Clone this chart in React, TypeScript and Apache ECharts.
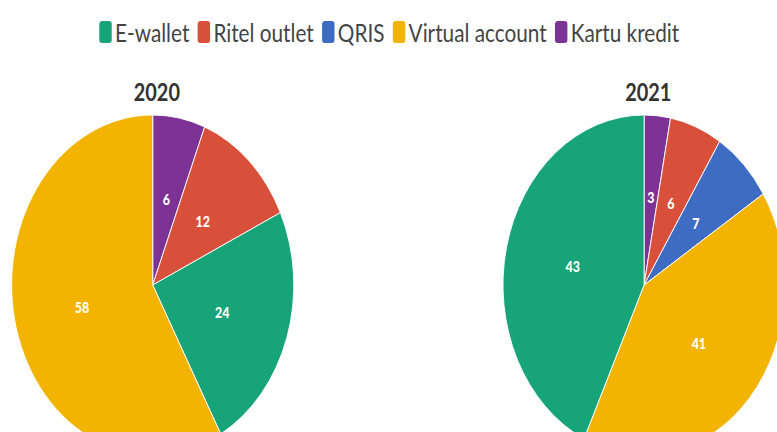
import React, { useEffect, useRef } from "react";
import * as echarts from "echarts";

const categories = ["E-wallet", "Ritel outlet", "QRIS", "Virtual account", "Kartu kredit"];
const colors = ["#17a479", "#d9503a", "#3d6cc2", "#f2b400", "#7c3395"];
// slice order as drawn clockwise from 12 o'clock
const order2020 = ["Kartu kredit", "Ritel outlet", "E-wallet", "Virtual account"];
const values2020 = [6, 12, 24, 58];
const order2021 = ["Kartu kredit", "Ritel outlet", "QRIS", "Virtual account", "E-wallet"];
const values2021 = [3, 6, 7, 41, 43];
const years = ["2020", "2021"];

const SX = 0.83;
const W = Math.round(777 / SX);

export default function App() {
  const ref = useRef<HTMLDivElement>(null);
  useEffect(() => {
    if (!ref.current) return;
    const chart = echarts.init(ref.current, null, { renderer: "svg" });
    const colorOf = (n: string) => colors[categories.indexOf(n)];
    const mk = (names: string[], vals: number[]) =>
      names.map((n, i) => ({ name: n, value: vals[i], itemStyle: { color: colorOf(n) } }));
    const font = "Lato, 'Noto Sans', sans-serif";
    const centers = [184, 776];
    chart.setOption({
      animation: false,
      title: years.map((y, i) => ({
        text: y,
        left: centers[i],
        top: 75,
        textAlign: "center",
        textStyle: { fontFamily: font, fontWeight: "bold", fontSize: 24, color: "#333" },
      })),
      legend: {
        data: categories,
        top: 14,
        left: "center",
        icon: "roundRect",
        itemWidth: 17,
        itemHeight: 24,
        itemGap: 8,
        textStyle: { fontFamily: font, fontSize: 25, color: "#444", padding: [0, 0, 0, -2] },
      },
      series: [
        { data: mk(order2020, values2020), center: [centers[0], 285] },
        { data: mk(order2021, values2021), center: [centers[1], 285] },
      ].map((s) => ({
        type: "pie",
        radius: 170,
        center: s.center,
        startAngle: 90,
        clockwise: true,
        data: s.data,
        itemStyle: { borderColor: "#fff", borderWidth: 1 },
        label: {
          show: true,
          position: "inside",
          formatter: "{c}",
          color: "#fff",
          fontWeight: 900,
          fontSize: 15,
          fontFamily: font,
        },
        labelLine: { show: false },
        emphasis: { disabled: true },
      })),
    });
    return () => chart.dispose();
  }, []);
  return (
    <div style={{ position: "fixed", left: 0, top: 0, width: 777, height: 432, overflow: "hidden", background: "#fff" }}>
      <div
        ref={ref}
        style={{ width: W, height: 432, transform: `scaleX(${SX})`, transformOrigin: "0 0" }}
      />
    </div>
  );
}
